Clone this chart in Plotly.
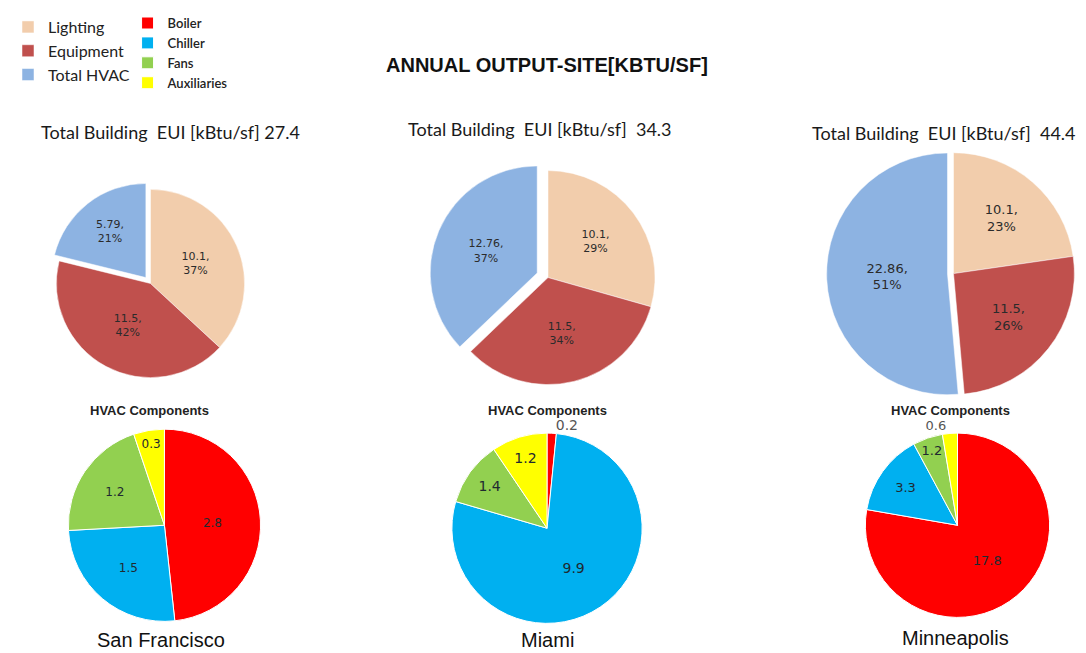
import plotly.graph_objects as go

W, H = 1086, 653
OFF = 8  # page body margin: reference pixel -> figure pixel

cities = ["San Francisco", "Miami", "Minneapolis"]
eui_totals = [27.4, 34.3, 44.4]
end_uses = ["Lighting", "Equipment", "Total HVAC"]
end_use_values = {
    "San Francisco": [10.1, 11.5, 5.79],
    "Miami": [10.1, 11.5, 12.76],
    "Minneapolis": [10.1, 11.5, 22.86],
}
end_use_pct = {
    "San Francisco": [37, 42, 21],
    "Miami": [29, 34, 37],
    "Minneapolis": [23, 26, 51],
}
hvac_parts = ["Boiler", "Chiller", "Fans", "Auxiliaries"]
hvac_values = {
    "San Francisco": [2.8, 1.5, 1.2, 0.3],
    "Miami": [0.2, 9.9, 1.4, 1.2],
    "Minneapolis": [17.8, 3.3, 1.2, 0.6],
}

end_use_colors = ["#F2CDAC", "#C0504D", "#8DB3E2"]
hvac_colors = ["#FF0000", "#00B0F0", "#92D050", "#FFFF00"]

# layout geometry (reference pixels): center x, center y, radius, pull
top_geo = [(147, 280, 95, 0.08), (546, 274, 108, 0.11), (953, 270, 122, 0.05)]
bot_geo = [(161, 524, 97), (545, 527, 96), (957, 524, 93)]
bot_text_size = [12, 14, 13]


def px(x):
    return (x - OFF) / W


def py(y):
    return 1 - (y - OFF) / H


def dom(cx, cy, half):
    x0 = max(0.0, px(cx - half))
    x1 = min(1.0, px(cx + half))
    y0 = max(0.0, py(cy + half))
    y1 = min(1.0, py(cy - half))
    return dict(x=[x0, x1], y=[y0, y1])


fig = go.Figure()

for i, city in enumerate(cities):
    cx, cy, r, p = top_geo[i]
    fig.add_trace(go.Pie(
        labels=end_uses,
        values=end_use_values[city],
        customdata=end_use_pct[city],
        texttemplate="%{value},<br>%{customdata}%",
        textposition="inside",
        insidetextorientation="horizontal",
        textfont=dict(family="DejaVu Sans", size=11 if i < 2 else 13,
                      color="#2b2b2b"),
        marker=dict(colors=end_use_colors, line=dict(color="white", width=0.5)),
        sort=False, direction="clockwise", rotation=0,
        pull=[0, 0, p],
        domain=dom(cx, cy, r * (1 + p)),
        hoverinfo="label+value+percent",
        legend="legend",
        showlegend=(i == 0),
    ))

for i, city in enumerate(cities):
    cx, cy, r = bot_geo[i]
    vals = hvac_values[city]
    tp = ["inside"] * 4
    if city == "Minneapolis":
        tp = ["inside", "inside", "inside", "outside"]
    if city == "Miami":
        tp = ["outside", "inside", "inside", "inside"]
    fig.add_trace(go.Pie(
        labels=hvac_parts,
        values=vals,
        texttemplate="%{value}",
        textposition=tp,
        insidetextorientation="horizontal",
        textfont=dict(family="DejaVu Sans", size=bot_text_size[i],
                      color="#1f2a30"),
        outsidetextfont=dict(family="DejaVu Sans", size=bot_text_size[i],
                             color="#555555"),
        marker=dict(colors=hvac_colors, line=dict(color="white", width=1)),
        sort=False, direction="clockwise", rotation=0,
        domain=dom(cx, cy, r),
        hoverinfo="label+value+percent",
        legend="legend2",
        showlegend=(i == 0),
    ))

annotations = [
    dict(text="<b>ANNUAL OUTPUT-SITE[KBTU/SF]</b>", x=px(545), y=py(59),
         font=dict(family="Liberation Sans", size=20, color="#111111")),
]
sub_x = [167, 538, 943]
sub_y = [127, 124, 128]
for i, city in enumerate(cities):
    gap = " " if i == 0 else "  "
    annotations.append(dict(
        text=f"Total Building  EUI [kBtu/sf]{gap}{eui_totals[i]}",
        x=px(sub_x[i]), y=py(sub_y[i]),
        font=dict(family="Lato", size=18, color="#1a1a1a")))
hv_x = [146, 545, 950]
for i in range(3):
    annotations.append(dict(
        text="<b>HVAC Components</b>", x=px(hv_x[i]), y=py(408),
        font=dict(family="Liberation Sans", size=13, color="#222222")))
city_x = [158, 545, 955]
city_y = [640, 640, 638]
for i, city in enumerate(cities):
    annotations.append(dict(
        text=city, x=px(city_x[i]), y=py(city_y[i]),
        font=dict(family="Liberation Sans", size=20, color="#111111")))

for a in annotations:
    a.update(xref="paper", yref="paper", showarrow=False,
             xanchor="center", yanchor="middle")

fig.update_layout(
    width=W, height=H,
    margin=dict(l=0, r=0, t=0, b=0),
    paper_bgcolor="white", plot_bgcolor="white",
    annotations=annotations,
    legend=dict(x=px(4), y=py(4), xanchor="left", yanchor="top",
                font=dict(family="Lato", size=16, color="#222222"),
                bgcolor="rgba(0,0,0,0)", itemclick=False),
    legend2=dict(x=px(124), y=py(2), xanchor="left", yanchor="top",
                 font=dict(family="Lato", size=13, color="#222222",
                           weight=600),
                 bgcolor="rgba(0,0,0,0)", itemclick=False),
)

fig.write_html("out.html")
